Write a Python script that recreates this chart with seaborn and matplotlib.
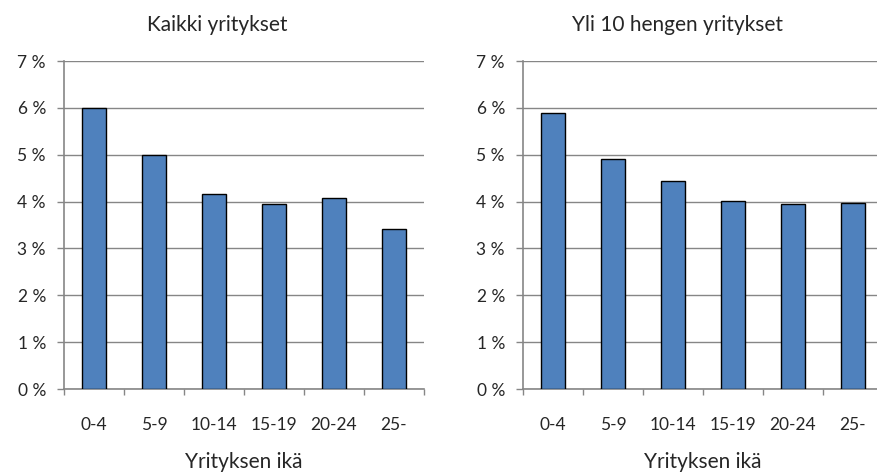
import pandas as pd
import matplotlib.pyplot as plt
import seaborn as sns
from matplotlib.ticker import FixedLocator, FuncFormatter

# Data
ages = ["0-4", "5-9", "10-14", "15-19", "20-24", "25-"]
all_firms = [6.0, 5.0, 4.16, 3.94, 4.07, 3.42]
over_10 = [5.90, 4.90, 4.43, 4.01, 3.94, 3.96]

titles = ["Kaikki yritykset", "Yli 10 hengen yritykset"]
xlabel = "Yrityksen ikä"

sns.set_style("white")
plt.rcParams["font.family"] = ["Lato", "DejaVu Sans"]

W, H = 877, 474
fig = plt.figure(figsize=(W / 100, H / 100), dpi=100)

grid_col = "#868686"
bar_col = "#4F81BD"

# axes boxes in pixels: left, top, width, height
boxes = [(64, 61, 360, 328), (523, 61, 360, 328)]
title_x = [217, 677]
xlabel_x = [244, 703]

for i, values in enumerate([all_firms, over_10]):
    l, t, w, h = boxes[i]
    ax = fig.add_axes([l / W, 1 - (t + h) / H, w / W, h / H])
    df = pd.DataFrame({"age": ages, "value": values})
    sns.barplot(data=df, x="age", y="value", color=bar_col, width=0.4,
                edgecolor="black", linewidth=1, saturation=1, ax=ax, zorder=3)
    ax.set_ylim(0, 7)
    ax.set_xlim(-0.5, len(ages) - 0.5)
    ax.set_yticks(range(0, 8))
    ax.yaxis.set_major_formatter(FuncFormatter(lambda v, p: f"{int(v)} %"))
    ax.grid(axis="y", color=grid_col, linewidth=1, zorder=0)
    ax.set_axisbelow(True)
    for s in ["top", "right"]:
        ax.spines[s].set_visible(False)
    for s in ["left", "bottom"]:
        ax.spines[s].set_color(grid_col)
        ax.spines[s].set_linewidth(1.2)
    ax.tick_params(axis="y", direction="out", length=5, color=grid_col,
                   width=1, left=True, pad=8, labelsize=12.5)
    ax.tick_params(axis="x", which="major", length=0, pad=20, labelsize=12.5)
    ax.xaxis.set_minor_locator(FixedLocator([k - 0.5 for k in range(len(ages) + 1)]))
    ax.tick_params(axis="x", which="minor", direction="out", length=4.5,
                   color=grid_col, width=1, bottom=True)
    ax.set_xlabel("")
    ax.set_ylabel("")
    fig.text(title_x[i] / W, 1 - 25 / H, titles[i], ha="center", va="center",
             fontsize=15)
    fig.text(xlabel_x[i] / W, 1 - 462 / H, xlabel, ha="center", va="center",
             fontsize=15)

fig.savefig("out.png", dpi=100)
